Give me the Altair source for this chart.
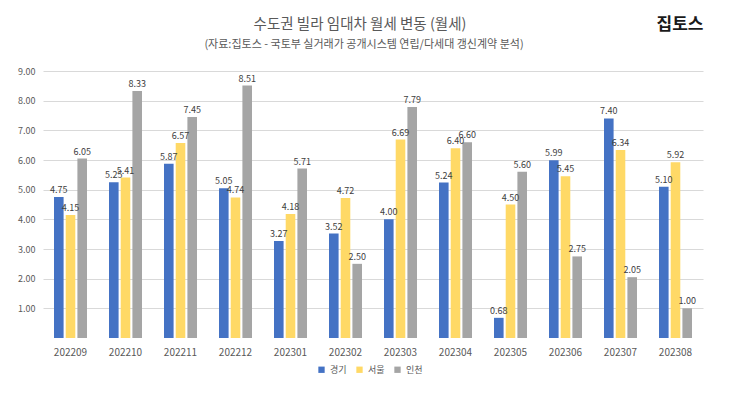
import altair as alt
import pandas as pd

months = ["202209", "202210", "202211", "202212", "202301", "202302",
          "202303", "202304", "202305", "202306", "202307", "202308"]
regions = ["경기", "서울", "인천"]
gyeonggi = [4.75, 5.25, 5.87, 5.05, 3.27, 3.52, 4.00, 5.24, 0.68, 5.99, 7.40, 5.10]
seoul = [4.15, 5.41, 6.57, 4.74, 4.18, 4.72, 6.69, 6.40, 4.50, 5.45, 6.34, 5.92]
incheon = [6.05, 8.33, 7.45, 8.51, 5.71, 2.50, 7.79, 6.60, 5.60, 2.75, 2.05, 1.00]
colors = ["#4472C4", "#FFD966", "#A5A5A5"]
title_text = "수도권 빌라 임대차 월세 변동 (월세)"
subtitle_text = "(자료:집토스 - 국토부 실거래가 공개시스템 연립/다세대 갱신계약 분석)"
logo_text = "집토스"

rows = []
for i, m in enumerate(months):
    for r, vals in zip(regions, [gyeonggi, seoul, incheon]):
        rows.append({"month": m, "region": r, "value": vals[i]})
df = pd.DataFrame(rows)

FONT = "Noto Sans CJK KR"

x = alt.X("month:N", sort=months, title=None,
          scale=alt.Scale(paddingInner=0.4, paddingOuter=0.2),
          axis=alt.Axis(labelAngle=0, labelFontSize=10, labelColor="#595959",
                        domain=False, ticks=False, labelPadding=9, labelFont=FONT))
xoff = alt.XOffset("region:N", sort=regions, scale=alt.Scale(paddingInner=0.18))
y = alt.Y("value:Q", title=None,
          scale=alt.Scale(domain=[0, 9]),
          axis=alt.Axis(values=[1, 2, 3, 4, 5, 6, 7, 8, 9], format=".2f",
                        labelFontSize=9, labelColor="#595959", domain=False, ticks=False,
                        labelPadding=8, gridColor="#D9D9D9", labelFont=FONT))
color = alt.Color("region:N", sort=regions,
                  scale=alt.Scale(domain=regions, range=colors),
                  legend=alt.Legend(orient="none", legendX=274, legendY=294,
                                    direction="horizontal", title=None,
                                    symbolType="square", symbolSize=40, labelFontSize=9,
                                    labelColor="#595959", labelFont=FONT,
                                    columnPadding=8, symbolStrokeWidth=0))

bars = alt.Chart(df).mark_bar().encode(x=x, xOffset=xoff, y=y, color=color)
labels = alt.Chart(df).mark_text(dy=-7, fontSize=9, color="#404040", font=FONT).encode(
    x=x, xOffset=xoff, y=y, text=alt.Text("value:Q", format=".2f"))

title = alt.Chart(pd.DataFrame({"t": [title_text]})).mark_text(
    fontSize=14.5, color="#595959", font=FONT, align="center", baseline="middle"
).encode(x=alt.value(317), y=alt.value(-46), text="t:N")
subtitle = alt.Chart(pd.DataFrame({"t": [subtitle_text]})).mark_text(
    fontSize=11, color="#595959", font=FONT, align="center", baseline="middle"
).encode(x=alt.value(321), y=alt.value(-26), text="t:N")
logo = alt.Chart(pd.DataFrame({"t": [logo_text]})).mark_text(
    fontSize=17, fontWeight="bold", color="#1a1a1a", font=FONT, align="center",
    baseline="middle"
).encode(x=alt.value(637), y=alt.value(-46), text="t:N")

chart = alt.layer(bars, labels, title, subtitle, logo).properties(
    width=660, height=267,
    autosize=alt.AutoSizeParams(type="none"),
    padding={"left": 35, "top": 63, "right": 19, "bottom": 50},
).configure_view(stroke=None)

chart.save("out.html", embed_options={"renderer": "svg", "actions": False})
